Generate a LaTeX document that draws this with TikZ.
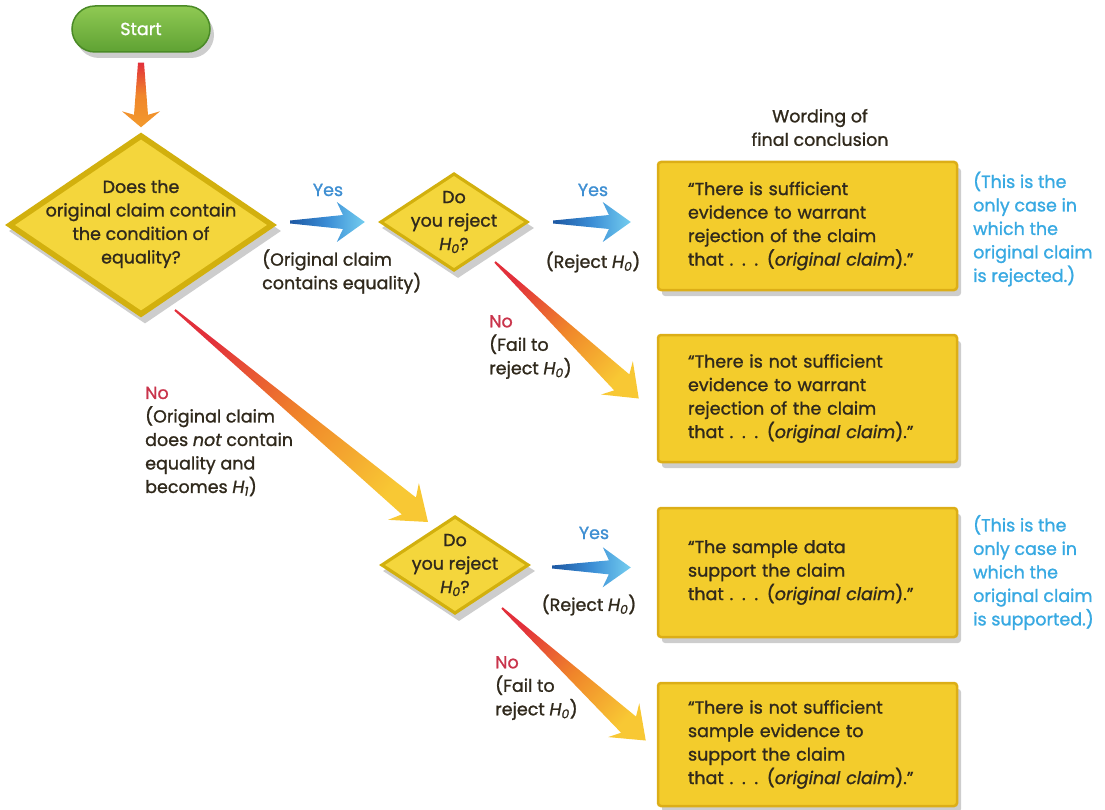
\documentclass[tikz,border=0pt]{standalone}
\usepackage{fontspec}
\setmainfont{Poppins}[FakeBold=1.2]
\usetikzlibrary{calc,shapes.geometric,shadows}
\definecolor{boxY}{HTML}{F3CC2C}
\definecolor{boxE}{HTML}{DCAE17}
\definecolor{diaY}{HTML}{F4D63C}
\definecolor{diaE}{HTML}{D2B00E}
\definecolor{txt}{HTML}{30291C}
\definecolor{yesB}{HTML}{3F8FD2}
\definecolor{noR}{HTML}{C9344B}
\definecolor{noteB}{HTML}{38A9E2}
\definecolor{arrBd}{HTML}{1D58A3}
\definecolor{arrBm}{HTML}{3B8ED6}
\definecolor{arrBl}{HTML}{74CDEF}
\definecolor{arrR}{HTML}{E2303B}
\definecolor{arrO}{HTML}{F0862A}
\definecolor{arrY}{HTML}{F8C834}
\definecolor{startL}{HTML}{8FC953}
\definecolor{startG}{HTML}{5FA233}
\definecolor{startE}{HTML}{4A8A26}
\newcommand\ff{\fontsize{17.5}{23.5}\selectfont}
\newcommand\Hz{{\itshape H}\textsubscript{\itshape 0}}
\newcommand\Ho{{\itshape H}\textsubscript{\itshape 1}}
% #1 from, #2 to, #3 tail half width, #4 shaft half width, #5 head half width,
% #6 head length, #7 start colour, #8 middle colour, #9 end colour
\newcommand{\fatarr}[9]{%
  \pgfmathanglebetweenpoints{\pgfpointanchor{#1}{center}}{\pgfpointanchor{#2}{center}}%
  \pgfmathsetmacro\faang{\pgfmathresult+90}%
  \coordinate (fab) at ($(#2)!#6!(#1)$);
  \coordinate (faj) at ($(#2)!{0.78*#6}!(#1)$);
  \shade[top color=#7, bottom color=#9, middle color=#8, shading angle=\faang]
    ($(#1)!#3!90:(#2)$) -- ($(faj)!#4!90:(#2)$) -- ($(fab)!#5!90:(#2)$) -- (#2)
    -- ($(fab)!#5!-90:(#2)$) -- ($(faj)!#4!-90:(#2)$) -- ($(#1)!#3!-90:(#2)$) -- cycle;
}
\tikzset{
  shad/.style={drop shadow={opacity=0.28, shadow xshift=4pt, shadow yshift=-6pt, fill=black!70}},
  startbox/.style={rectangle, rounded corners=23pt, minimum width=138pt, minimum height=46pt,
    top color=startL, bottom color=startG, draw=startE, line width=1.5pt, shad,
    text=white, font=\ff},
  diaout/.style={diamond, inner sep=0pt, fill=diaE, shad},
  diain/.style={diamond, inner sep=0pt, fill=diaY},
  diatext/.style={align=center, inner sep=0pt, text=txt, font=\ff},
  cbox/.style={rectangle, fill=boxY, draw=boxE, line width=2.5pt, rounded corners=3pt,
    minimum width=299pt, text width=239pt, inner xsep=30pt, inner ysep=0pt,
    align=left, text=txt, font=\ff, shad},
  lbl/.style={inner sep=0pt, text=txt, font=\ff},
  yes/.style={inner sep=0pt, text=yesB, font=\ff},
  note/.style={inner sep=0pt, text=noteB, font=\ff, align=left, anchor=west},
}
\begin{document}
\begin{tikzpicture}[x=1pt,y=-1pt]
\useasboundingbox (0,0) rectangle (1105,810);

% Start
\node[startbox] (start) at (141,29) {Start};

% diamonds
\node[diaout, minimum width=272pt, minimum height=185pt] (d1) at (141,225) {};
\node[diain, minimum width=252pt, minimum height=171pt] (d1i) at (d1) {};
\node[diatext] (d1t) at (141,224) {Does the\\original claim contain\\the condition of\\equality?};

\node[diaout, minimum width=152pt, minimum height=100pt] (d2) at (454,222) {};
\node[diain, minimum width=140pt, minimum height=92pt] (d2i) at (d2) {};
\node[diatext] (d2t) at (454,222) {Do\\you reject\\\Hz?};

\node[diaout, minimum width=152pt, minimum height=100pt] (d3) at (455,565) {};
\node[diain, minimum width=140pt, minimum height=92pt] (d3i) at (d3) {};
\node[diatext] (d3t) at (455,565) {Do\\you reject\\\Hz?};

% conclusion boxes
\node[cbox, minimum height=128pt] (b1) at (807.5,226)
  {“There is sufficient\\evidence to warrant\\rejection of the claim\\that . . . ({\itshape original claim}).”};
\node[cbox, minimum height=127pt] (b2) at (807.5,398.5)
  {“There is not sufficient\\evidence to warrant\\rejection of the claim\\that . . . ({\itshape original claim}).”};
\node[cbox, minimum height=129pt] (b3) at (807.5,572.5)
  {“The sample data\\support the claim\\that . . . ({\itshape original claim}).”};
\node[cbox, minimum height=123pt] (b4) at (807.5,744.5)
  {“There is not sufficient\\sample evidence to\\support the claim\\that . . . ({\itshape original claim}).”};

% arrow end points
\coordinate (s0) at ($(start.south)+(0,10)$);
\coordinate (s1) at ($(d1.north)+(0,-5)$);
\coordinate (y1s) at ($(d1.east)+(13,-3)$);
\coordinate (y1e) at ($(d2.west)+(-13,0)$);
\coordinate (y2s) at ($(d2.east)+(23,0)$);
\coordinate (y2e) at ($(b1.west)+(-26,-4)$);
\coordinate (n2s) at ($(d2.center)+(41,40)$);
\coordinate (n2e) at ($(b2.west)+(-18,0)$);
\coordinate (n1s) at ($(d1.center)+(34,85)$);
\coordinate (n1e) at ($(d3.center)+(-27,-43)$);
\coordinate (y3s) at ($(d3.east)+(21,2)$);
\coordinate (y3e) at ($(b3.west)+(-26,-5)$);
\coordinate (n3s) at ($(d3.center)+(47,43)$);
\coordinate (n3e) at ($(b4.west)+(-11,-4)$);

% arrows
\fatarr{s0}{s1}{3pt}{7pt}{19pt}{16pt}{arrR}{arrO}{arrO!70!arrY}
\fatarr{y1s}{y1e}{1.5pt}{7pt}{20pt}{28pt}{arrBd}{arrBm}{arrBl}
\fatarr{y2s}{y2e}{1.5pt}{7pt}{20pt}{28pt}{arrBd}{arrBm}{arrBl}
\fatarr{y3s}{y3e}{1.5pt}{7pt}{20pt}{28pt}{arrBd}{arrBm}{arrBl}
\fatarr{n1s}{n1e}{1pt}{11pt}{24pt}{32pt}{arrR}{arrO}{arrY}
\fatarr{n2s}{n2e}{1pt}{11pt}{23pt}{30pt}{arrR}{arrO}{arrY}
\fatarr{n3s}{n3e}{1pt}{11pt}{23pt}{30pt}{arrR}{arrO}{arrY}

% labels
\node[yes] (yes1) at (328,190) {Yes};
\node[lbl, align=left, anchor=west] (oc) at (262,271.5) {(Original claim\\contains equality)};
\node[yes] (yes2) at (593,190) {Yes};
\node[lbl] (rj1) at (593,262) {(Reject \Hz)};
\node[lbl, align=left, anchor=west] (no2) at (489,347) {{\color{noR}No}\\(Fail to\\reject \Hz)};
\node[lbl, align=left, anchor=west] (no1) at (145,441.5)
  {{\color{noR}No}\\(Original claim\\does {\itshape not} contain\\equality and\\becomes \Ho)};
\node[yes] (yes3) at (594,533) {Yes};
\node[lbl] (rj2) at (589,605) {(Reject \Hz)};
\node[lbl, align=left, anchor=west] (no3) at (495,688) {{\color{noR}No}\\(Fail to\\reject \Hz)};

\node[lbl, align=center] (word) at (820,127.5) {Wording of\\final conclusion};
\node[note] (note1) at (973,229) {(This is the\\only case in\\which the\\original claim\\is rejected.)};
\node[note] (note2) at (973,572.5) {(This is the\\only case in\\which the\\original claim\\is supported.)};
\end{tikzpicture}
\end{document}
